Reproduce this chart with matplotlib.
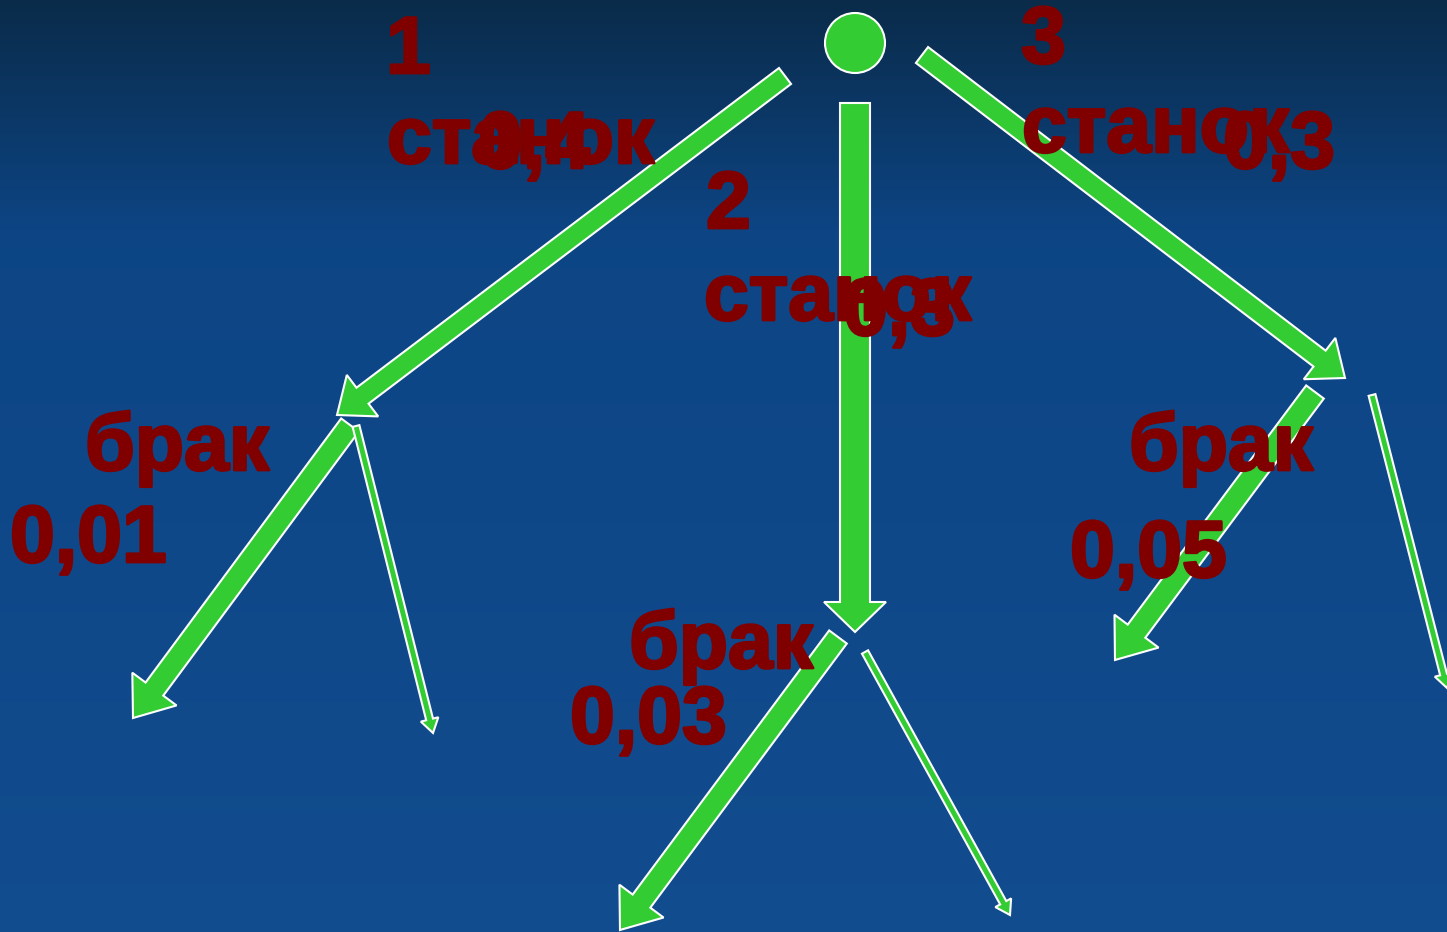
import numpy as np
import matplotlib.pyplot as plt
import matplotlib.patheffects as pe
from matplotlib.patches import FancyArrow, Circle

# tree content
machines = ["1", "2", "3"]
machine_word = "станок"
machine_probs = ["0,4", "0,3", "0,3"]
defect_word = "брак"
defect_probs = ["0,01", "0,03", "0,05"]

# layout (pixel coords, y down)
W, H = 1447, 932
root = (855, 43)
# (x0, y0, x1, y1, shaft width, head width, head length)
branch_arrows = [
    (785, 76, 337, 415, 20, 52, 32),
    (855, 103, 855, 632, 30, 62, 30),
    (922, 55, 1345, 378, 20, 52, 32),
]
leaf_arrows = [
    (350, 425, 133, 718, 22, 55, 36),
    (356, 426, 433, 733, 7, 18, 14),
    (838, 637, 620, 930, 22, 55, 36),
    (865, 652, 1010, 915, 7, 18, 14),
    (1315, 392, 1115, 660, 22, 55, 36),
    (1372, 395, 1447, 688, 7, 18, 14),
]
num_pos = [(386, 73), (706, 228), (1021, 63)]
word_pos = [(387, 163), (704, 320), (1022, 152)]
mprob_pos = [(478, 168), (843, 335), (1223, 168)]
dword_pos = [(85, 470), (629, 668), (1129, 470)]
dprob_pos = [(10, 562), (570, 743), (1070, 577)]

green = "#33cc33"
red = "#800000"
font = dict(family="Liberation Sans", fontweight="bold", fontsize=58,
            color=red, ha="left", va="baseline", zorder=5,
            path_effects=[pe.withStroke(linewidth=2, foreground=red)])

fig = plt.figure(figsize=(W / 100, H / 100), dpi=100)
ax = fig.add_axes([0, 0, 1, 1])
ax.set_xlim(0, W)
ax.set_ylim(H, 0)
ax.axis("off")

# background gradient
t = np.linspace(0, 1, 300)[:, None]
top = np.array([0.04, 0.17, 0.29])
mid = np.array([0.05, 0.27, 0.52])
bot = np.array([0.07, 0.30, 0.56])
k = np.clip(t / 0.25, 0, 1)
col = np.where(t < 0.25, top + (mid - top) * k, mid + (bot - mid) * (t - 0.25) / 0.75)
grad = col[:, None, :].repeat(2, axis=1)
ax.imshow(grad, extent=[0, W, H, 0], aspect="auto", zorder=0)

ax.add_patch(Circle(root, 30, facecolor=green, edgecolor="white", lw=1.5, zorder=3))

for x0, y0, x1, y1, w, hw, hl in branch_arrows + leaf_arrows:
    ax.add_patch(FancyArrow(x0, y0, x1 - x0, y1 - y0, width=w, head_width=hw,
                            head_length=hl, length_includes_head=True,
                            facecolor=green, edgecolor="white", lw=1.5, zorder=3))

for i in range(3):
    ax.text(*num_pos[i], machines[i], **font)
    ax.text(*word_pos[i], machine_word, **font)
    ax.text(*mprob_pos[i], machine_probs[i], **font)
    ax.text(*dword_pos[i], defect_word, **font)
    ax.text(*dprob_pos[i], defect_probs[i], **font)

fig.savefig("out.png", dpi=100)
